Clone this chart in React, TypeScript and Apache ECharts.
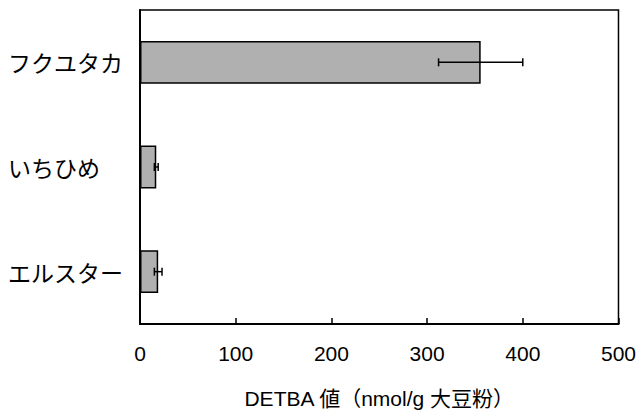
import React, { useEffect, useRef } from "react";
import * as echarts from "echarts";

const categories = ["フクユタカ", "いちひめ", "エルスター"];
const values = [356, 17, 19];
const errors = [44, 2, 4];
const xTicks = [0, 100, 200, 300, 400, 500];

export default function App() {
  const ref = useRef<HTMLDivElement>(null);
  useEffect(() => {
    document.body.style.margin = "0";
    const chart = echarts.init(ref.current!, null, { renderer: "svg" });
    const font = "'Noto Sans CJK JP', 'Noto Sans', sans-serif";
    const latin = "'Liberation Sans', Arial, 'Noto Sans CJK JP', sans-serif";
    chart.setOption({
      animation: false,
      backgroundColor: "#fff",
      grid: {
        left: 140,
        right: 18,
        top: 10,
        bottom: 91,
        show: true,
        borderColor: "#000",
        borderWidth: 1.5,
      },
      xAxis: {
        type: "value",
        min: 0,
        max: 500,
        interval: 100,
        axisLine: { show: true, lineStyle: { color: "#000", width: 2 } },
        axisTick: { show: true, inside: true, length: 6, lineStyle: { color: "#000", width: 1.5 } },
        axisLabel: {
          color: "#000",
          fontSize: 21,
          fontFamily: latin,
          margin: 19,
          formatter: (v: number) => (xTicks.includes(v) ? String(v) : ""),
        },
        splitLine: { show: false },
        name: "DETBA 値（nmol/g 大豆粉）",
        nameLocation: "middle",
        nameGap: 64,
        nameTextStyle: { color: "#000", fontSize: 21, fontFamily: latin },
      },
      yAxis: {
        type: "category",
        data: categories,
        inverse: true,
        axisLine: { show: true, lineStyle: { color: "#000", width: 2 } },
        axisTick: { show: false },
        axisLabel: { color: "#000", fontSize: 23, fontFamily: font, margin: 132, align: "left" },
      },
      series: [
        {
          type: "bar",
          data: values,
          barCategoryGap: "59%",
          itemStyle: { color: "#b0b0b0", borderColor: "#000", borderWidth: 1.5 },
        },
        {
          type: "custom",
          data: values.map((v, i) => [i, v - errors[i], v + errors[i]]),
          encode: { y: 0, x: [1, 2] },
          renderItem: (params: any, api: any) => {
            const cat = api.value(0);
            const lo = api.coord([api.value(1), cat]);
            const hi = api.coord([api.value(2), cat]);
            const h = 4;
            const style = { stroke: "#000", lineWidth: 1.5 };
            return {
              type: "group",
              children: [
                { type: "line", shape: { x1: lo[0], y1: lo[1], x2: hi[0], y2: hi[1] }, style },
                { type: "line", shape: { x1: lo[0], y1: lo[1] - h, x2: lo[0], y2: lo[1] + h }, style },
                { type: "line", shape: { x1: hi[0], y1: hi[1] - h, x2: hi[0], y2: hi[1] + h }, style },
              ],
            };
          },
          z: 10,
        },
      ],
    });
    return () => chart.dispose();
  }, []);
  return <div ref={ref} style={{ width: 639, height: 415 }} />;
}
